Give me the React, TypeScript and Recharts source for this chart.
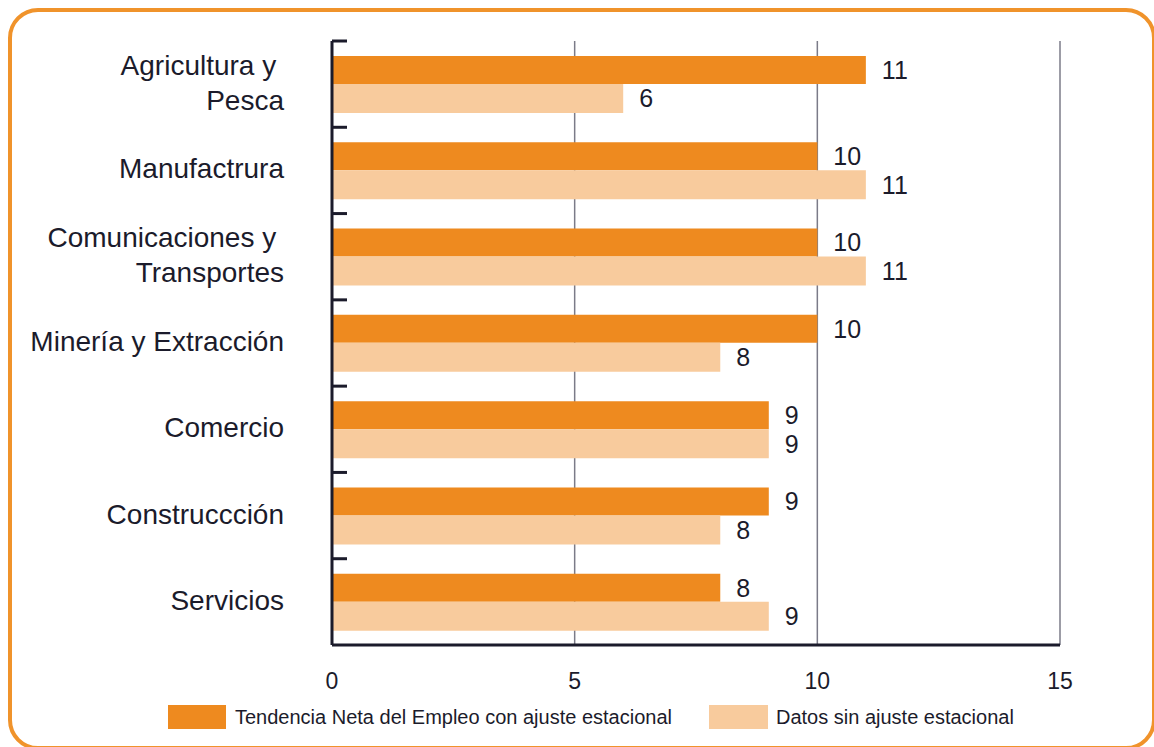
import React from 'react';
import { BarChart, Bar, XAxis, YAxis, CartesianGrid, LabelList } from 'recharts';

const categories = [
  'Agricultura y\u00a0\nPesca',
  'Manufactrura',
  'Comunicaciones y\u00a0\nTransportes',
  'Minería y Extracción',
  'Comercio',
  'Construccción',
  'Servicios',
];
const ajustado = [11, 10, 10, 10, 9, 9, 8];
const sinAjuste = [6, 11, 11, 8, 9, 8, 9];
const xTicks = [0, 5, 10, 15];

const seriesNames = ['Tendencia Neta del Empleo con ajuste estacional', 'Datos sin ajuste estacional'];
const DARK = '#EE8A1F';
const LIGHT = '#F8CB9D';
const INK = '#1b1b2b';
const FONT = '"Liberation Sans", Arial, sans-serif';

const data = categories.map((name, i) => ({ name, a: ajustado[i], b: sinAjuste[i] }));

const W = 1154;
const H = 747;
const AXIS_X = 332;
const TOP = 41;
const BOTTOM = 102;
const BAND = (H - TOP - BOTTOM) / categories.length;

function CategoryTick(props: any) {
  const { y, payload } = props;
  const lines = String(payload.value).split('\n');
  const lh = 35;
  const y0 = y - 2 - ((lines.length - 1) * lh) / 2;
  const top = y - BAND / 2;
  return (
    <g>
      <line x1={AXIS_X} x2={AXIS_X + 15} y1={top} y2={top} stroke={INK} strokeWidth={3} />
      <text x={AXIS_X - 48} y={y0} textAnchor="end" dominantBaseline="central" fill={INK} fontSize={28} fontFamily={FONT}>
        {lines.map((l, i) => (
          <tspan key={i} x={AXIS_X - 48} y={y0 + i * lh}>
            {l}
          </tspan>
        ))}
      </text>
    </g>
  );
}

export default function App() {
  return (
    <div style={{ position: 'absolute', left: 0, top: 0, width: W, height: H, overflow: 'hidden', background: '#fff' }}>
      <div
        style={{
          position: 'absolute',
          left: 8,
          top: 8,
          width: 1148,
          height: 742,
          boxSizing: 'border-box',
          border: '4px solid #F0932B',
          borderRadius: 30,
        }}
      />
      <div style={{ position: 'absolute', left: 0, top: 0 }}>
        <BarChart
          width={W}
          height={H}
          data={data}
          layout="vertical"
          margin={{ top: TOP, right: W - 1060, bottom: BOTTOM - 40, left: 0 }}
          barGap={0}
        >
          <CartesianGrid horizontal={false} stroke="#7b7b88" strokeWidth={1.5} />
          <XAxis
            type="number"
            domain={[0, 15]}
            ticks={xTicks}
            height={40}
            tickLine={false}
            tickMargin={22}
            axisLine={{ stroke: INK, strokeWidth: 3 }}
            tick={{ fill: INK, fontSize: 23, fontFamily: FONT }}
          />
          <YAxis
            type="category"
            dataKey="name"
            width={AXIS_X}
            tickLine={false}
            axisLine={{ stroke: INK, strokeWidth: 3 }}
            tick={<CategoryTick />}
            interval={0}
          />
          <Bar dataKey="a" name={seriesNames[0]} fill={DARK} barSize={28} isAnimationActive={false}>
            <LabelList dataKey="a" position="right" offset={16} fill={INK} fontSize={25} fontFamily={FONT} />
          </Bar>
          <Bar dataKey="b" name={seriesNames[1]} fill={LIGHT} barSize={29} isAnimationActive={false}>
            <LabelList dataKey="b" position="right" offset={16} fill={INK} fontSize={25} fontFamily={FONT} />
          </Bar>
        </BarChart>
      </div>
      <div style={{ position: 'absolute', left: 168, top: 705, display: 'flex', alignItems: 'center', fontFamily: FONT, fontSize: 20, color: INK }}>
        <span style={{ width: 58, height: 24, background: DARK, display: 'inline-block' }} />
        <span style={{ marginLeft: 9 }}>{seriesNames[0]}</span>
        <span style={{ width: 59, height: 24, background: LIGHT, display: 'inline-block', marginLeft: 37 }} />
        <span style={{ marginLeft: 8 }}>{seriesNames[1]}</span>
      </div>
    </div>
  );
}
